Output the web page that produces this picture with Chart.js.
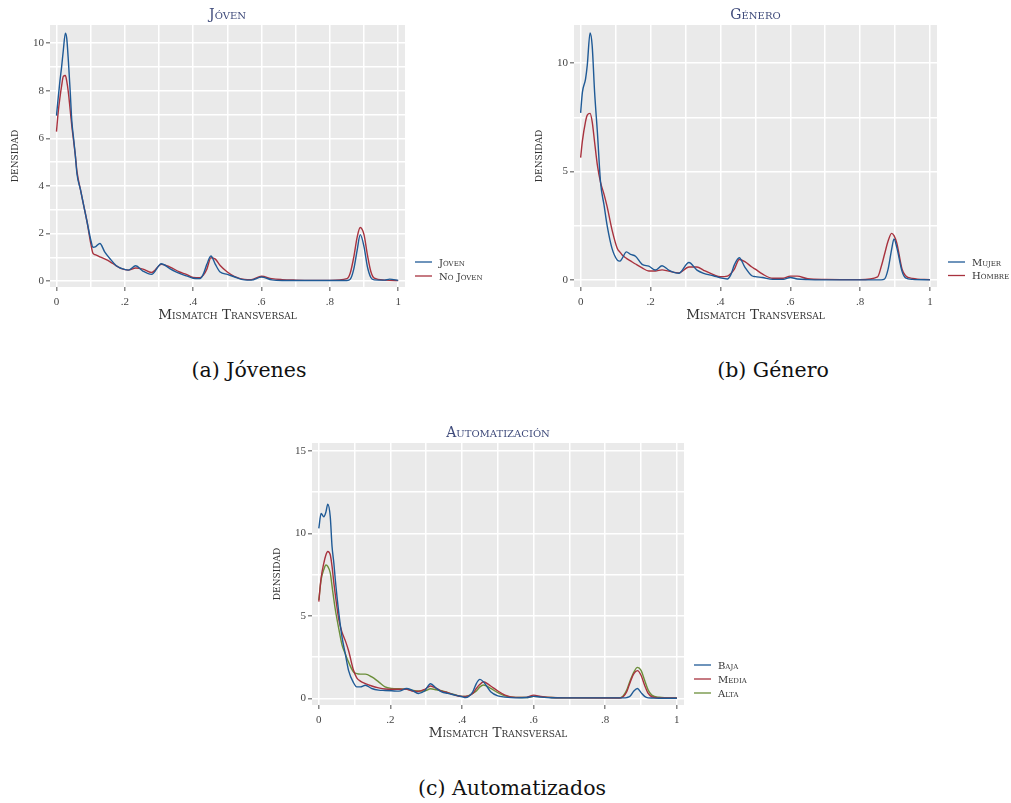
<!DOCTYPE html>
<html>
<head>
<meta charset="utf-8">
<script src="https://cdn.jsdelivr.net/npm/chart.js@4/dist/chart.umd.min.js"></script>
<style>
  body { margin: 0; background: #fff; width: 1011px; height: 803px; position: relative; overflow: hidden; }
  .panel { position: absolute; }
  .caption { position: absolute; font-family: "DejaVu Serif", serif; font-size: 20.5px; color: #111; text-align: center; width: 300px; }
</style>
</head>
<body>
<div class="panel" style="left:0;top:0;width:500px;height:330px"><canvas id="chartA"></canvas></div>
<div class="panel" style="left:510px;top:0;width:500px;height:330px"><canvas id="chartB"></canvas></div>
<div class="panel" style="left:260px;top:410px;width:500px;height:340px"><canvas id="chartC"></canvas></div>
<div class="caption" style="left:99px;top:358px">(a) Jóvenes</div>
<div class="caption" style="left:623px;top:358px">(b) Género</div>
<div class="caption" style="left:362px;top:776px">(c) Automatizados</div>
<script>
// ---- data ----
const xA = [0, .005, .01, .015, .02, .026, .03, .035, .04, .045, .05, .055, .06, .07, .08, .09, .10, .107, .115, .127, .141, .156, .175, .19, .21, .232, .253, .278, .307, .331, .36, .38, .40, .42, .43, .44, .452, .465, .479, .50, .52, .55, .57, .60, .63, .66, .70, .75, .80, .85, .86, .87, .88, .889, .90, .91, .92, .93, .96, .975, 1.0];
const joven = [6.95, 7.7, 8.4, 9.0, 9.7, 10.42, 10.2, 9.2, 8.0, 6.7, 6.0, 5.3, 4.5, 3.85, 3.15, 2.45, 1.75, 1.42, 1.45, 1.58, 1.23, 0.95, 0.64, 0.53, 0.46, 0.64, 0.42, 0.28, 0.73, 0.53, 0.32, 0.22, 0.12, 0.1, 0.3, 0.7, 1.05, 0.7, 0.38, 0.28, 0.18, 0.05, 0.04, 0.17, 0.05, 0.02, 0.02, 0.02, 0.02, 0.02, 0.08, 0.5, 1.3, 1.95, 1.45, 0.6, 0.15, 0.05, 0.04, 0.08, 0.03];
const noJoven = [6.28, 7.1, 7.7, 8.2, 8.6, 8.64, 8.4, 7.9, 7.2, 6.5, 5.9, 5.3, 4.6, 3.85, 3.15, 2.45, 1.6, 1.16, 1.1, 1.02, 0.93, 0.82, 0.64, 0.52, 0.46, 0.55, 0.5, 0.36, 0.7, 0.6, 0.38, 0.28, 0.15, 0.14, 0.25, 0.5, 0.98, 0.92, 0.65, 0.38, 0.2, 0.07, 0.06, 0.2, 0.1, 0.06, 0.04, 0.03, 0.03, 0.1, 0.35, 1.0, 1.85, 2.25, 1.95, 1.1, 0.4, 0.12, 0.04, 0.03, 0.02];

const xB = [0, .005, .014, .019, .027, .033, .04, .048, .057, .067, .076, .09, .105, .112, .119, .131, .143, .157, .176, .195, .214, .233, .252, .281, .31, .333, .352, .38, .40, .42, .43, .44, .454, .47, .49, .50, .52, .55, .58, .60, .62, .65, .70, .80, .85, .86, .87, .88, .89, .897, .905, .92, .93, .95, 1.0];
const mujer = [7.7, 8.65, 9.26, 9.9, 11.38, 10.8, 8.65, 6.8, 4.5, 3.45, 2.5, 1.45, 0.92, 0.87, 1.0, 1.3, 1.18, 1.1, 0.72, 0.64, 0.46, 0.66, 0.46, 0.31, 0.81, 0.46, 0.31, 0.2, 0.1, 0.05, 0.25, 0.7, 1.03, 0.6, 0.2, 0.16, 0.12, 0.03, 0.03, 0.12, 0.05, 0.02, 0.01, 0.01, 0.01, 0.01, 0.05, 0.5, 1.4, 1.89, 1.5, 0.4, 0.1, 0.03, 0.01];
const hombre = [5.64, 6.4, 7.3, 7.6, 7.68, 7.3, 6.35, 5.28, 4.5, 3.95, 3.37, 2.3, 1.45, 1.3, 1.15, 1.0, 0.88, 0.74, 0.56, 0.42, 0.42, 0.47, 0.41, 0.33, 0.6, 0.6, 0.45, 0.25, 0.15, 0.18, 0.3, 0.5, 0.95, 0.85, 0.6, 0.5, 0.28, 0.08, 0.08, 0.18, 0.18, 0.06, 0.03, 0.02, 0.15, 0.6, 1.2, 1.8, 2.15, 2.05, 1.7, 0.5, 0.2, 0.08, 0.02];

const xC = [0, .0065, .014, .02, .025, .032, .037, .042, .046, .056, .065, .074, .083, .097, .106, .116, .13, .148, .167, .185, .204, .224, .245, .26, .278, .296, .312, .329, .343, .36, .38, .40, .41, .43, .44, .45, .46, .48, .50, .52, .55, .58, .60, .62, .65, .70, .84, .85, .86, .87, .88, .89, .90, .91, .92, .93, .95, 1.0];
const baja = [10.3, 11.2, 11.0, 11.3, 11.76, 11.0, 9.2, 8.2, 7.2, 5.15, 3.7, 2.7, 1.7, 0.95, 0.7, 0.7, 0.8, 0.6, 0.5, 0.48, 0.46, 0.44, 0.6, 0.5, 0.3, 0.46, 0.89, 0.6, 0.4, 0.3, 0.2, 0.1, 0.05, 0.4, 0.9, 1.15, 1.0, 0.4, 0.15, 0.08, 0.03, 0.05, 0.12, 0.08, 0.04, 0.03, 0.03, 0.03, 0.05, 0.15, 0.45, 0.6, 0.35, 0.12, 0.03, 0.02, 0.01, 0.01];
const media = [5.86, 7.3, 8.2, 8.7, 8.9, 8.7, 8.0, 7.0, 6.3, 4.75, 4.0, 3.5, 2.9, 1.7, 1.25, 1.05, 0.9, 0.75, 0.64, 0.57, 0.55, 0.55, 0.55, 0.45, 0.42, 0.55, 0.75, 0.6, 0.44, 0.35, 0.2, 0.12, 0.12, 0.3, 0.6, 0.85, 1.01, 0.75, 0.45, 0.2, 0.06, 0.06, 0.2, 0.12, 0.05, 0.03, 0.02, 0.1, 0.4, 1.0, 1.5, 1.68, 1.4, 0.8, 0.3, 0.1, 0.03, 0.02];
const alta = [5.96, 7.2, 7.8, 8.08, 8.0, 7.6, 6.8, 6.0, 5.4, 4.2, 3.23, 2.7, 2.2, 1.6, 1.5, 1.47, 1.47, 1.3, 1.0, 0.7, 0.6, 0.58, 0.56, 0.5, 0.45, 0.45, 0.58, 0.52, 0.46, 0.35, 0.22, 0.12, 0.12, 0.3, 0.45, 0.7, 0.81, 0.6, 0.35, 0.15, 0.06, 0.05, 0.12, 0.1, 0.05, 0.03, 0.03, 0.15, 0.5, 1.1, 1.6, 1.88, 1.7, 1.1, 0.5, 0.2, 0.07, 0.03];

const xTicks = [0, .1, .2, .3, .4, .5, .6, .7, .8, .9, 1];
const xLabels = ["0", "", ".2", "", ".4", "", ".6", "", ".8", "", "1"];

const BLUE = "#1f5a96";
const RED = "#a8323e";
const GREEN = "#6b8e3a";
const SERIF = "'Liberation Serif', serif";
const SC_SERIF = "'DejaVu Serif', serif";
const TITLE_COLOR = "#3e4a7a";

// gray plot region + title + legend drawn by hand
const panelPlugin = {
    id: "panel",
    beforeDraw(chart, args, opts) {
        const { ctx, chartArea: a } = chart;
        ctx.save();
        ctx.fillStyle = "#eaeaea";
        ctx.fillRect(a.left, a.top, a.right - a.left, a.bottom - a.top);
        ctx.restore();
    },
    afterDraw(chart, args, opts) {
        const { ctx, chartArea: a } = chart;
        ctx.save();
        ctx.font = "small-caps 14px " + SC_SERIF;
        ctx.fillStyle = TITLE_COLOR;
        ctx.textAlign = "center";
        ctx.textBaseline = "middle";
        ctx.fillText(opts.title, (a.left + a.right) / 2, opts.titleY);

        ctx.font = "small-caps 10px " + SC_SERIF;
        ctx.textAlign = "left";
        chart.data.datasets.forEach((ds, i) => {
            const y = opts.legendY + i * opts.legendStep;
            ctx.strokeStyle = ds.borderColor;
            ctx.lineWidth = 1.3;
            ctx.beginPath();
            ctx.moveTo(opts.legendX, y);
            ctx.lineTo(opts.legendX + 17, y);
            ctx.stroke();
            ctx.fillStyle = "#333";
            ctx.fillText(ds.label, opts.legendX + 24, y + 1);
        });
        ctx.restore();
    }
};

function makePanel(id, xs, series, cfg) {
    const datasets = series.map(s => ({
        label: s.label,
        data: xs.map((x, i) => ({ x: x, y: s.values[i] })),
        borderColor: s.color,
        borderWidth: 1.4,
        pointRadius: 0,
        fill: false,
        cubicInterpolationMode: "monotone"
    }));
    const tickColor = (ctx, labels) => (ctx.tick && labels[ctx.index] !== "" ? "#888" : "rgba(0,0,0,0)");
    return new Chart(document.getElementById(id), {
        type: "line",
        data: { datasets },
        options: {
            responsive: true,
            maintainAspectRatio: false,
            animation: false,
            layout: { padding: { top: cfg.top, right: cfg.right, left: 0, bottom: 0 } },
            plugins: {
                legend: { display: false },
                tooltip: { enabled: false },
                panel: cfg.panel
            },
            scales: {
                x: {
                    type: "linear",
                    min: -0.019,
                    max: 1.02,
                    afterBuildTicks: s => { s.ticks = xTicks.map(v => ({ value: v })); },
                    afterFit: s => { s.height = cfg.xHeight; },
                    border: { display: false },
                    grid: {
                        color: "#ffffff",
                        lineWidth: 1.5,
                        tickLength: 4,
                        tickColor: c => tickColor(c, xLabels)
                    },
                    ticks: {
                        autoSkip: false,
                        maxRotation: 0,
                        padding: 5,
                        color: "#444",
                        font: { family: SERIF, size: 11 },
                        callback: (v, i) => xLabels[i]
                    },
                    title: {
                        display: true,
                        text: "Mismatch Transversal",
                        color: "#333",
                        font: { family: SC_SERIF, size: 13.5, weight: "small-caps" },
                        padding: { top: 0, bottom: cfg.xTitlePad }
                    }
                },
                y: {
                    min: cfg.yMin,
                    max: cfg.yMax,
                    afterBuildTicks: s => { s.ticks = cfg.yTicks.map(v => ({ value: v })); },
                    afterFit: s => { s.width = cfg.yWidth; },
                    border: { display: false },
                    grid: {
                        color: "#ffffff",
                        lineWidth: 1.5,
                        tickLength: 4,
                        tickColor: c => tickColor(c, cfg.yLabels)
                    },
                    ticks: {
                        autoSkip: false,
                        padding: 2,
                        color: "#444",
                        font: { family: SERIF, size: 11 },
                        callback: (v, i) => cfg.yLabels[i]
                    },
                    title: {
                        display: true,
                        text: "densidad",
                        color: "#333",
                        font: { family: SC_SERIF, size: 12.3, weight: "small-caps" },
                        padding: { top: cfg.yTitlePad, bottom: 0 }
                    }
                }
            }
        },
        plugins: [panelPlugin]
    });
}

makePanel("chartA", xA, [
    { label: "Joven", values: joven, color: BLUE },
    { label: "No Joven", values: noJoven, color: RED }
], {
    top: 25, right: 95, xHeight: 43, yWidth: 50,
    xTitlePad: 6, yTitlePad: 7,
    yMin: -0.25, yMax: 10.76,
    yTicks: [0, 1, 2, 3, 4, 5, 6, 7, 8, 9, 10],
    yLabels: ["0", "", "2", "", "4", "", "6", "", "8", "", "10"],
    panel: { title: "Jóven", titleY: 15, legendX: 415, legendY: 262, legendStep: 14 }
});

makePanel("chartB", xB, [
    { label: "Mujer", values: mujer, color: BLUE },
    { label: "Hombre", values: hombre, color: RED }
], {
    top: 25, right: 73, xHeight: 43, yWidth: 64,
    xTitlePad: 6, yTitlePad: 21,
    yMin: -0.32, yMax: 11.75,
    yTicks: [0, 2.5, 5, 7.5, 10],
    yLabels: ["0", "", "5", "", "10"],
    panel: { title: "Género", titleY: 15, legendX: 438, legendY: 262, legendStep: 13.5 }
});

makePanel("chartC", xC, [
    { label: "Baja", values: baja, color: BLUE },
    { label: "Media", values: media, color: RED },
    { label: "Alta", values: alta, color: GREEN }
], {
    top: 33, right: 76, xHeight: 45, yWidth: 52,
    xTitlePad: 8, yTitlePad: 9,
    yMin: -0.4, yMax: 15.47,
    yTicks: [0, 2.5, 5, 7.5, 10, 12.5, 15],
    yLabels: ["0", "", "5", "", "10", "", "15"],
    panel: { title: "Automatización", titleY: 23, legendX: 434, legendY: 255, legendStep: 14 }
});
</script>
</body>
</html>
